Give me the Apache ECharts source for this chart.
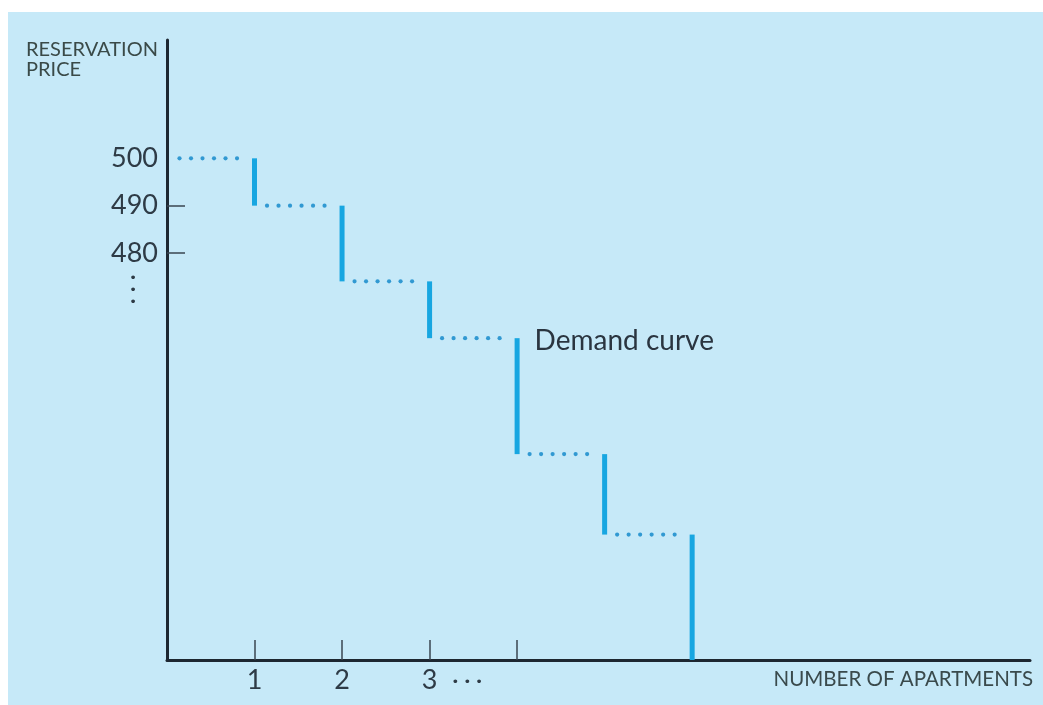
<!DOCTYPE html>
<html>
<head>
<meta charset="utf-8">
<script src="https://cdn.jsdelivr.net/npm/echarts@6/dist/echarts.min.js"></script>
<style>
  body { margin: 0; background: #ffffff; }
  #chart { position: absolute; left: 8px; top: 12px; width: 1035px; height: 693px; background: #c6e9f8; }
</style>
</head>
<body>
<div id="chart"></div>
<script>
// reservation price of each apartment (apartment i sits between i and i+1)
var prices = [500, 490, 474, 462, 437.5, 420.5];
var steps = [0, 1, 2, 3, 4, 5, 6];
var yMin = 394, yMax = 525;
var xMax = 9.86;
var yLabels = [500, 490, 480];
var yTicks = [490, 480];
var xLabels = [1, 2, 3];
var xTicks = [1, 2, 3, 4];

var fontName = 'Lato';
var data = [];
for (var i = 0; i < prices.length; i++) {
  var next = i + 1 < prices.length ? prices[i + 1] : yMin;
  data.push([steps[i], prices[i], steps[i + 1], next]);
}

var myChart = echarts.init(document.getElementById('chart'));
var option = {
  backgroundColor: 'transparent',
  animation: false,
  textStyle: { fontFamily: fontName },
  title: {
    text: 'RESERVATION\nPRICE',
    left: 13, top: 23,
    textStyle: { fontSize: 20, fontWeight: 'normal', color: '#3a4a48', lineHeight: 20, fontFamily: fontName }
  },
  grid: { left: 159, top: 28, right: 13, bottom: 45, outerBoundsMode: 'none' },
  xAxis: {
    type: 'value', min: 0, max: xMax,
    name: 'NUMBER OF APARTMENTS', nameLocation: 'end', nameGap: 3,
    nameTextStyle: { align: 'right', verticalAlign: 'top', padding: [9, 0, 0, 0], fontSize: 20.5, color: '#3a4a4c' },
    axisLine: { lineStyle: { color: '#1d2731', width: 3 } },
    axisTick: { customValues: xTicks, inside: true, length: 20, lineStyle: { color: '#3a4550', width: 1.5 } },
    axisLabel: { customValues: xLabels, fontSize: 27, color: '#2e3b46', margin: 7 },
    splitLine: { show: false }
  },
  yAxis: {
    type: 'value', min: yMin, max: yMax,
    axisLine: { show: true, lineStyle: { color: '#1d2731', width: 3 } },
    axisTick: { show: true, customValues: yTicks, inside: true, length: 18, lineStyle: { color: '#3a4550', width: 1.5 } },
    axisLabel: { customValues: yLabels, fontSize: 27, color: '#2e3b46', margin: 9 },
    splitLine: { show: false }
  },
  series: [{
    type: 'custom',
    encode: { x: [0, 2], y: [1, 3] },
    data: data,
    renderItem: function (params, api) {
      var a = api.coord([api.value(0), api.value(1)]);
      var b = api.coord([api.value(2), api.value(1)]);
      var c = api.coord([api.value(2), api.value(3)]);
      var kids = [];
      var x0 = a[0] + 12.5, x1 = b[0] - 17.5;
      for (var k = 0; k < 6; k++) {
        kids.push({
          type: 'circle',
          shape: { cx: x0 + (x1 - x0) * k / 5, cy: a[1], r: 2.1 },
          style: { fill: '#3199d2' }
        });
      }
      kids.push({
        type: 'line',
        shape: { x1: b[0], y1: b[1], x2: c[0], y2: c[1] },
        style: { stroke: '#17a6e1', lineWidth: 5 }
      });
      return { type: 'group', children: kids };
    }
  }]
};
myChart.setOption(option);

// annotations placed from data coordinates
var lbl = myChart.convertToPixel({ gridIndex: 0 }, [4.2, 461.5]);
var xd = myChart.convertToPixel({ gridIndex: 0 }, [3.43, yMin]);
var yd = myChart.convertToPixel({ gridIndex: 0 }, [0, 472]);
myChart.setOption({
  graphic: [
    { type: 'text', x: lbl[0], y: lbl[1], style: { text: 'Demand curve', fontSize: 28, fill: '#2a3540', fontFamily: fontName, verticalAlign: 'middle' } },
    { type: 'text', x: xd[0], y: xd[1] + 23, style: { text: '• • •', fontSize: 13, fill: '#2e3b46', fontFamily: 'DejaVu Sans', align: 'center', verticalAlign: 'middle' } },
    { type: 'text', x: yd[0] - 34, y: yd[1], style: { text: '•\n•\n•', fontSize: 13, lineHeight: 12, fill: '#2e3b46', fontFamily: 'DejaVu Sans', align: 'center', verticalAlign: 'middle' } }
  ]
});
</script>
</body>
</html>
